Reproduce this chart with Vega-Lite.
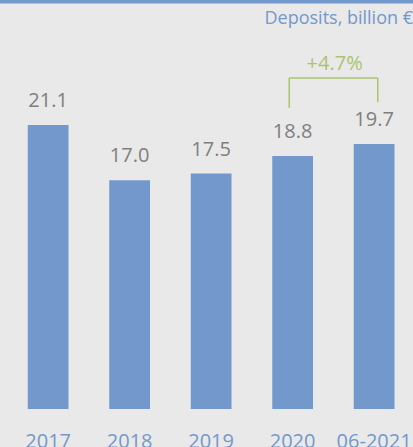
{
  "$schema": "https://vega.github.io/schema/vega-lite/v6.json",
  "width": 413,
  "height": 409,
  "autosize": "none",
  "padding": {"left": 0, "top": 0, "right": 0, "bottom": 38},
  "background": "#e9e9e9",
  "config": {"view": {"stroke": null}, "font": "Open Sans"},
  "title": {
    "text": "Deposits, billion €",
    "anchor": "end",
    "frame": "group",
    "offset": -31,
    "fontSize": 18,
    "fontWeight": "normal",
    "color": "#7398cb",
    "font": "Open Sans"
  },
  "datasets": {
    "bars": [
      {"year": "2017", "value": 21.1},
      {"year": "2018", "value": 17.0},
      {"year": "2019", "value": 17.5},
      {"year": "2020", "value": 18.8},
      {"year": "06-2021", "value": 19.7}
    ],
    "vert": [
      {"year": "2020", "y": 22.4, "y2": 24.6, "off": 17},
      {"year": "06-2021", "y": 22.8, "y2": 24.6, "off": 24}
    ],
    "horiz": [
      {"from": "2020", "to": "06-2021", "y": 24.6, "label": "+4.7%"}
    ]
  },
  "encoding": {
    "x": {
      "field": "year",
      "type": "nominal",
      "sort": null,
      "scale": {"domain": ["2017", "2018", "2019", "2020", "06-2021"], "paddingInner": 0.5, "paddingOuter": 0.284, "align": 0.6},
      "axis": {
        "title": null,
        "domain": false,
        "ticks": false,
        "labelAngle": 0,
        "labelFontSize": 20,
        "labelColor": "#7398cb",
        "labelPadding": 22,
        "labelBaseline": "top",
        "labelFont": "Open Sans"
      }
    }
  },
  "layer": [
    {
      "data": {"name": "bars"},
      "mark": {"type": "bar", "color": "#7398cb"},
      "encoding": {
        "y": {"field": "value", "type": "quantitative", "scale": {"domain": [0, 30.4], "nice": false}, "axis": null}
      }
    },
    {
      "data": {"name": "bars"},
      "mark": {"type": "text", "dy": -24, "fontSize": 20, "color": "#7f7f7f", "font": "Open Sans"},
      "encoding": {
        "y": {"field": "value", "type": "quantitative"},
        "text": {"field": "value", "type": "quantitative", "format": ".1f"}
      }
    },
    {
      "data": {"name": "bars"},
      "mark": {"type": "rule", "color": "#7398cb", "strokeWidth": 7},
      "transform": [{"filter": "datum.year == '2017'"}],
      "encoding": {
        "x": {"value": 0},
        "x2": {"value": 413},
        "y": {"datum": 30.4}
      }
    },
    {
      "data": {"name": "vert"},
      "mark": {"type": "rule", "color": "#a9c46c", "strokeWidth": 1.5},
      "encoding": {
        "xOffset": {"field": "off", "type": "quantitative", "scale": null},
        "y": {"field": "y", "type": "quantitative"},
        "y2": {"field": "y2"}
      }
    },
    {
      "data": {"name": "horiz"},
      "mark": {"type": "rule", "color": "#a9c46c", "strokeWidth": 1.5, "xOffset": -3.5, "x2Offset": 3.5},
      "encoding": {
        "x": {"field": "from", "type": "nominal", "sort": null},
        "x2": {"field": "to"},
        "y": {"field": "y", "type": "quantitative"}
      }
    },
    {
      "data": {"name": "horiz"},
      "mark": {"type": "text", "dy": -14, "dx": 42, "fontSize": 20, "color": "#a9c46c", "font": "Open Sans"},
      "encoding": {
        "x": {"field": "from", "type": "nominal", "sort": null},
        "y": {"field": "y", "type": "quantitative"},
        "text": {"field": "label"}
      }
    }
  ]
}
